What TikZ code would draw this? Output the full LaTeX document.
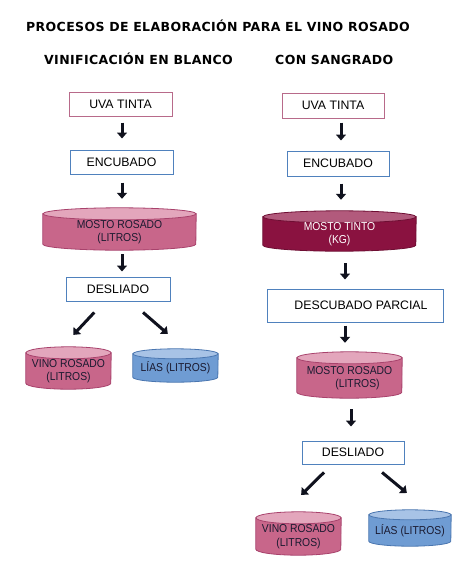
\documentclass[tikz,border=0pt]{standalone}
\usepackage{fontspec}
\setmainfont{Liberation Sans}
\newfontfamily\headfont[LetterSpace=3]{DejaVu Sans Bold}
\newfontfamily\cylfont[FakeStretch=0.9]{Liberation Sans}
\usetikzlibrary{arrows.meta,backgrounds}
\definecolor{pkbody}{HTML}{C8668A}
\definecolor{pktop}{HTML}{E3A6BC}
\definecolor{pkline}{HTML}{A8426C}
\definecolor{blbody}{HTML}{6F9CD3}
\definecolor{bltop}{HTML}{A8C3E6}
\definecolor{blline}{HTML}{4A76B0}
\definecolor{mrbody}{HTML}{8A1240}
\definecolor{mrtop}{HTML}{B25A7C}
\definecolor{mrline}{HTML}{6E0E33}
\definecolor{uvaline}{HTML}{B86A8A}
\definecolor{boxline}{HTML}{4F81BD}
\definecolor{arrowc}{HTML}{10121E}
\definecolor{darktext}{HTML}{1A1A30}
\tikzset{
  headtext/.style={font=\headfont\fontsize{12.5}{15}\selectfont, inner sep=0pt, anchor=base west, text=black},
  uvabox/.style={draw=uvaline, line width=1pt, inner sep=0pt, font=\fontsize{12.3}{14}\selectfont, fill=white},
  stepbox/.style={draw=boxline, line width=1pt, inner sep=0pt, font=\fontsize{12.3}{14}\selectfont, fill=white},
  cylbox/.style={inner sep=0pt, align=center, font=\cylfont\fontsize{11.5}{13.5}\selectfont},
  flow/.style={draw=arrowc, line width=3pt, -{Triangle[width=10pt,length=6pt]}},
}
% name, cx, top, width, height, ry, colour prefix, text colour, text
\newcommand\mkcyl[9]{%
  \node[cylbox, text=#8, minimum width=#4pt, minimum height={(#5-#6)*1pt}] (#1) at (#2, {-(#3)-(#6+#5)/2}) {#9};
  \begin{scope}[on background layer]
    \filldraw[fill=#7body, draw=#7line, line width=0.8pt] (#1.north west) -- ([yshift=#6pt]#1.south west)
      arc[start angle=180, end angle=360, x radius=#4pt/2, y radius=#6pt] -- (#1.north east) -- cycle;
    \filldraw[fill=#7top, draw=#7line, line width=0.8pt] (#1.north) ellipse[x radius=#4pt/2, y radius=#6pt];
  \end{scope}
}
\begin{document}
\begin{tikzpicture}[x=1pt, y=1pt]
\useasboundingbox (0,0) rectangle (475,-584);
\begin{scope}[on background layer]
\fill[white] (0,0) rectangle (475,-584);
\end{scope}

% headings
\node[headtext] (title) at (26,-31) {PROCESOS DE ELABORACIÓN PARA EL VINO ROSADO};
\node[headtext] (sub1) at (44,-64) {VINIFICACIÓN EN BLANCO};
\node[headtext] (sub2) at (275,-64) {CON SANGRADO};

% left column
\node[uvabox, minimum width=103pt, minimum height=24pt] (uva1) at (120.5,-104) {UVA TINTA};
\node[stepbox, minimum width=103pt, minimum height=24pt] (enc1) at (121.5,-162) {ENCUBADO};
\mkcyl{cyl1}{119.5}{208}{153}{42}{6}{pk}{darktext}{MOSTO ROSADO\\(LITROS)}
\node[stepbox, minimum width=104pt, minimum height=24pt] (desl1) at (118,-289) {DESLIADO};
\mkcyl{vino1}{68.5}{347}{85}{42}{6}{pk}{darktext}{VINO ROSADO\\(LITROS)}
\mkcyl{lias1}{175.5}{349}{85}{33}{5}{bl}{darktext}{LÍAS (LITROS)}

% right column
\node[uvabox, minimum width=102pt, minimum height=25pt] (uva2) at (333,-105.5) {UVA TINTA};
\node[stepbox, minimum width=102pt, minimum height=25pt] (enc2) at (338,-163.5) {ENCUBADO};
\mkcyl{tinto}{339.5}{211}{153}{40}{6}{mr}{white}{MOSTO TINTO\\(KG)}
\node[stepbox, minimum width=176pt, minimum height=33pt] (desc) at (355,-305.5) {\hspace*{12pt}DESCUBADO PARCIAL};
\mkcyl{ros2}{349.5}{352}{105}{46}{6}{pk}{darktext}{MOSTO ROSADO\\\hspace*{16pt}(LITROS)}
\node[stepbox, minimum width=102pt, minimum height=23pt] (desl2) at (353,-452.5) {DESLIADO};
\mkcyl{vino2}{298.5}{512}{85}{43}{6}{pk}{darktext}{VINO ROSADO\\(LITROS)}
\mkcyl{lias2}{410}{510}{82}{36}{5}{bl}{darktext}{LÍAS (LITROS)}

% connectors, left
\draw[flow, shorten <=6pt, shorten >=11pt] ([xshift=1.5pt]uva1.south) -- ([xshift=1.5pt]uva1.south |- enc1.north);
\draw[flow, shorten <=8pt, shorten >=15pt] ([xshift=0.5pt]enc1.south) -- ([xshift=0.5pt]enc1.south |- cyl1.north);
\draw[flow, shorten <=4pt, shorten >=5pt] ([xshift=2.5pt]cyl1.south) -- ([xshift=2.5pt]cyl1.south |- desl1.north);
\draw[flow, shorten <=15pt, shorten >=24.5pt] ([xshift=-13.5pt]desl1.south) -- ([xshift=-12pt]vino1.north);
\draw[flow, shorten <=16.6pt, shorten >=30.3pt] ([xshift=12.5pt]desl1.south) -- ([xshift=15.2pt]lias1.north);

% connectors, right
\draw[flow, shorten <=4pt, shorten >=10pt] ([xshift=8pt]uva2.south) -- ([xshift=8pt]uva2.south |- enc2.north);
\draw[flow, shorten <=7pt, shorten >=17pt] ([xshift=3pt]enc2.south) -- ([xshift=3pt]enc2.south |- tinto.north);
\draw[flow, shorten <=12pt, shorten >=9pt] ([xshift=5.5pt]tinto.south) -- ([xshift=5.5pt]tinto.south |- desc.north);
\draw[flow, shorten <=3pt, shorten >=15pt] ([xshift=-10pt]desc.south) -- ([xshift=-10pt]desc.south |- ros2.north);
\draw[flow, shorten <=11pt, shorten >=14pt] ([xshift=1.5pt]ros2.south) -- ([xshift=1.5pt]ros2.south |- desl2.north);
\draw[flow, shorten <=11.3pt, shorten >=32.5pt] ([xshift=-21pt]desl2.south) -- ([xshift=-20.5pt]vino2.north);
\draw[flow, shorten <=12.4pt, shorten >=34.2pt] ([xshift=19.5pt]desl2.south) -- ([xshift=23.2pt]lias2.north);
\end{tikzpicture}
\end{document}
